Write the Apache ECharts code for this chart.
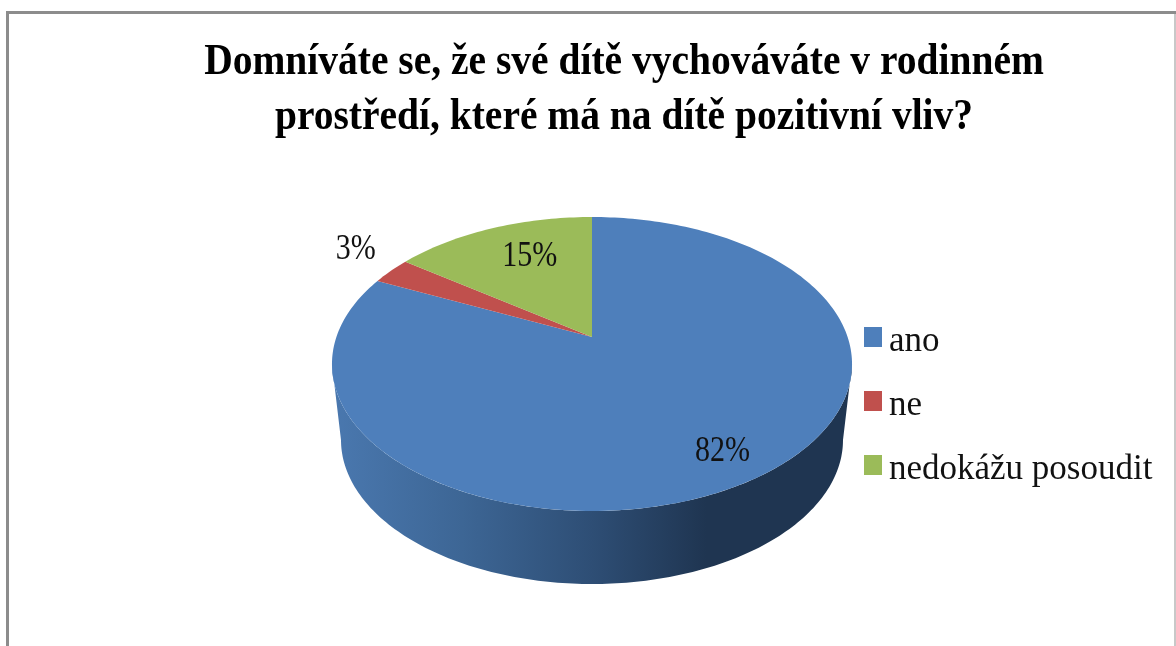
<!DOCTYPE html>
<html><head><meta charset="utf-8">
<style>html,body{margin:0;padding:0;background:#fff}#c{width:1176px;height:646px}</style>
<script src="https://cdn.jsdelivr.net/npm/echarts@6/dist/echarts.min.js"></script>
</head><body><div id="c"></div>
<script>
const titleLines = ['Domníváte se, že své dítě vychováváte v rodinném','prostředí, které má na dítě pozitivní vliv?'];
const categories = ['ano','ne','nedokážu posoudit'];
const values = [82,3,15];
const colors = ['#4E7FBB','#C0504D','#9BBB59'];

// projection of the tilted disc
const CX=592, CY=337, R=255.6, A=80.1, K=-0.1837;
const LOW={cx:592,cy:440,rx:251,ry:144};
const labelLayout=[{r:.83,dx:0,dy:0},{r:1.21,dx:3,dy:-9},{r:.65,dx:6,dy:-6}];
const total=values.reduce((a,b)=>a+b,0);
function proj(th,r){
  const u=r*Math.sin(th), v=-r*Math.cos(th), d=1+K*v;
  return [CX+R*u/d,(CY+A*v)/d];
}
function render(idx){
  return function(params,api){
    const val=api.value(0);
    let before=0; for(let i=0;i<idx;i++) before+=values[i];
    const t0=before/total*2*Math.PI, t1=(before+val)/total*2*Math.PI;
    const n=Math.max(6,Math.round(val*3));
    const pts=[[CX,CY]];
    for(let i=0;i<=n;i++) pts.push(proj(t0+(t1-t0)*i/n,1));
    const children=[];
    if(idx===0){
      const side=[], N=160, tA=Math.acos(K), tB=2*Math.PI-tA;
      for(let i=0;i<=N;i++) side.push(proj(tA+(tB-tA)*i/N,1));
      for(let i=0;i<=N;i++){
        const a=Math.PI*i/N;
        side.push([LOW.cx-LOW.rx*Math.cos(a),LOW.cy+LOW.ry*Math.sin(a)]);
      }
      children.push({type:'polygon',shape:{points:side},style:{
        fill:{type:'linear',x:0,y:0,x2:1,y2:0,colorStops:[
          {offset:0,color:'#4A78AF'},{offset:.25,color:'#3D6695'},{offset:.5,color:'#2E4E75'},
          {offset:.72,color:'#1F3551'},{offset:1,color:'#1F3551'}]}}});
    }
    children.push({type:'polygon',shape:{points:pts},style:{fill:colors[idx]}});
    const L=labelLayout[idx], p=proj((t0+t1)/2,L.r);
    children.push({type:'text',z2:10,x:p[0]+L.dx,y:p[1]+L.dy,scaleY:1.2,style:{x:0,y:0,text:val+'%',align:'center',verticalAlign:'middle',
      fontFamily:'Liberation Serif',fontSize:30,fill:'#111'}});
    return {type:'group',children};
  };
}
const chart=echarts.init(document.getElementById('c'),null,{renderer:'canvas'});
chart.setOption({
  animation:false,backgroundColor:'#fff',
  legend:{orient:'vertical',left:864,top:324.5,padding:0,itemWidth:18,itemHeight:30,itemGap:29,
    icon:'path://M0 0H18V20H0ZM0 30L0 30Z',
    data:categories,textStyle:{fontFamily:'Liberation Serif',fontSize:35,color:'#111',padding:[0,0,0,2]}},
  graphic:[
    {type:'text',x:624,y:90,scaleY:1.14,silent:true,style:{x:0,y:0,text:titleLines.join('\n'),align:'center',verticalAlign:'middle',
      fontFamily:'Liberation Serif',fontWeight:'bold',fontSize:39.5,lineHeight:48.5,fill:'#000'}},
    {type:'polyline',shape:{points:[[7.5,646],[7.5,12.5],[1176,12.5]]},style:{stroke:'#8C8C8C',lineWidth:3,fill:null},silent:true},
    {type:'line',shape:{x1:1175,y1:14,x2:1175,y2:646},style:{stroke:'#C8C8C8',lineWidth:2},silent:true}],
  series:categories.map((name,i)=>({type:'custom',name,coordinateSystem:'none',
    itemStyle:{color:colors[i]},data:[[values[i]]],renderItem:render(i)}))
});
</script></body></html>
